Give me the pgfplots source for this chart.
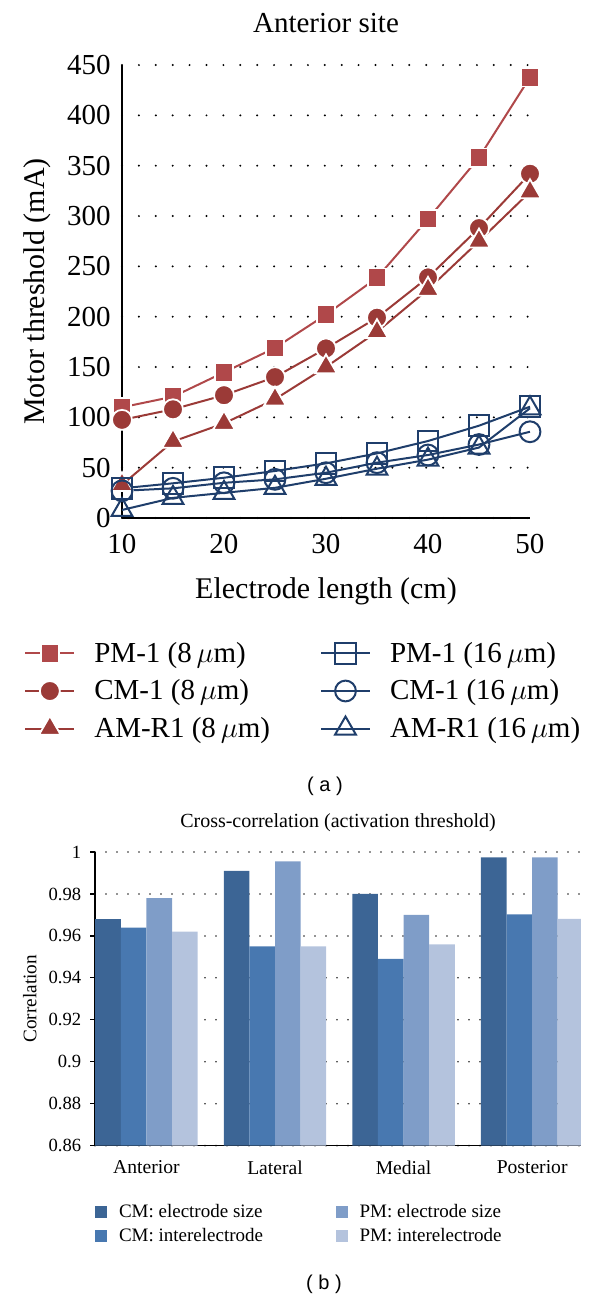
\documentclass[border=0pt]{standalone}
\usepackage{fontspec}
\setmainfont{Liberation Serif}
\newfontfamily\capfont{Liberation Sans}
\usepackage{pgfplots}
\pgfplotsset{compat=1.18}

\definecolor{redA}{HTML}{B0484A}
\definecolor{redB}{HTML}{9B3A37}
\definecolor{blueL}{HTML}{1F3E6B}
\definecolor{barA}{HTML}{3C6595}
\definecolor{barB}{HTML}{4878B0}
\definecolor{barC}{HTML}{7F9DC8}
\definecolor{barD}{HTML}{B4C3DD}

\tikzset{
  redsq/.style  = {redA, line width=1pt, mark=square*, mark size=4.6pt,
                   mark options={solid, fill=redA, draw=white, line width=0.9pt}},
  redci/.style  = {redB, line width=1pt, mark=*, mark size=5pt,
                   mark options={solid, fill=redB, draw=white, line width=0.9pt}},
  redtr/.style  = {redB, line width=1pt, mark=triangle*, mark size=6.3pt,
                   mark options={solid, fill=redB, draw=white, line width=0.9pt}},
  bluesq/.style = {blueL, line width=1pt, mark=square, mark size=5.2pt,
                   mark options={solid, line width=1pt}},
  blueci/.style = {blueL, line width=1pt, mark=o, mark size=5.2pt,
                   mark options={solid, line width=1pt}},
  bluetr/.style = {blueL, line width=1pt, mark=triangle, mark size=6pt,
                   mark options={solid, line width=1pt}},
}

\begin{document}
\begin{tikzpicture}
\useasboundingbox (0,0) rectangle (300pt,-649pt);

% (a) motor threshold vs electrode length
\begin{axis}[
  at={(61pt,-259pt)}, anchor=south west,
  scale only axis, width=204pt, height=226.5pt,
  xmin=10, xmax=50, ymin=0, ymax=450,
  xtick={10,20,30,40,50}, ytick={0,50,...,450},
  axis x line*=bottom, axis y line*=left,
  axis line style={black, line width=1pt},
  major tick length=0pt,
  ymajorgrids,
  grid style={black, line width=1.1pt, line cap=round, dash pattern=on 0pt off 8.45pt},
  /pgf/number format/assume math mode=true,
  tick label style={font=\fontsize{14.5}{16}\selectfont},
  xticklabel style={yshift=-4.5pt},
  yticklabel style={xshift=-2.2pt},
  clip=false,
  title={Anterior site},
  title style={at={(axis description cs:0.5,1.0455)}, anchor=base,
               font=\fontsize{14.5}{16}\selectfont},
  xlabel={Electrode length (cm)},
  xlabel style={at={(axis description cs:0.5,-0.1766)}, anchor=base,
                font=\fontsize{15}{17}\selectfont},
  ylabel={Motor threshold (mA)},
  ylabel style={at={(axis description cs:-0.2083,0.5)}, anchor=center,
                font=\fontsize{15}{17}\selectfont},
  legend columns=2,
  legend cell align=left,
  legend image code/.code={\draw[mark repeat=2,mark phase=2,#1]
      plot coordinates {(0pt,0pt)(12.25pt,0pt)(24.5pt,0pt)};},
  legend style={draw=none, fill=none, at={(axis description cs:-0.255,-0.255)},
                anchor=north west, font=\fontsize{14.5}{16}\selectfont,
                row sep=3.2pt,
                /tikz/every odd column/.append style={column sep=7.5pt},
                /tikz/every even column/.append style={column sep=23pt}},
]
% 8 um
\addplot[redsq, forget plot] coordinates
  {(10,110)(15,120.5)(20,144.7)(25,169)(30,202)(35,238.7)(40,297)(45,358)(50,437.8)};
\addplot[redci, forget plot] coordinates
  {(10,97.5)(15,108)(20,122)(25,140)(30,168.5)(35,199)(40,239)(45,288)(50,342)};
\addplot[redtr, forget plot] coordinates
  {(10,33)(15,76)(20,94)(25,118)(30,150)(35,185)(40,227)(45,275)(50,324)};
% 16 um
\addplot[bluesq, forget plot] coordinates
  {(10,29.5)(15,34.5)(20,40)(25,46.7)(30,54.3)(35,64.2)(40,76.5)(45,91.7)(50,110.6)};
\addplot[blueci, forget plot] coordinates
  {(10,27)(15,29.5)(20,35)(25,38.4)(30,45)(35,55)(40,62.6)(45,73)(50,85.7)};
\addplot[bluetr, forget plot] coordinates
  {(10,8)(15,20)(20,25)(25,30)(30,39)(35,49)(40,58)(45,70)(50,109)};

\addlegendimage{redsq}  \addlegendentry{PM-1 (8\,$\mu$m)}
\addlegendimage{bluesq} \addlegendentry{PM-1 (16\,$\mu$m)}
\addlegendimage{redci}  \addlegendentry{CM-1 (8\,$\mu$m)}
\addlegendimage{blueci} \addlegendentry{CM-1 (16\,$\mu$m)}
\addlegendimage{redtr}  \addlegendentry{AM-R1 (8\,$\mu$m)}
\addlegendimage{bluetr} \addlegendentry{AM-R1 (16\,$\mu$m)}
\end{axis}

\node[font=\capfont\fontsize{10}{12}\selectfont] at (162.5pt,-393pt) {( a )};

% (b) cross-correlation bars
\begin{axis}[
  at={(47.5pt,-572.8pt)}, anchor=south west,
  scale only axis, width=243pt, height=146.8pt,
  ybar=0pt, bar width=12.8pt,
  xmin=-0.4, xmax=3.38, ymin=0.86, ymax=1,
  xtick={0,1,2,3}, xticklabels={Anterior,Lateral,Medial,Posterior},
  ytick={0.86,0.88,0.9,0.92,0.94,0.96,0.98,1},
  yticklabels={0.86,0.88,0.9,0.92,0.94,0.96,0.98,1},
  axis x line*=bottom, axis y line*=left,
  axis line style={black, line width=0.6pt},
  tick align=outside, major tick length=2.5pt,
  ytick style={black, line width=0.6pt},
  xtick style={draw=none},
  ymajorgrids,
  grid style={black!85, line width=0.9pt, line cap=round, dash pattern=on 0pt off 5.5pt},
  xticklabel style={font=\fontsize{9.8}{11}\selectfont, yshift=-1.4pt},
  yticklabel style={font=\fontsize{9.3}{11}\selectfont, xshift=-0.9pt},
  title={Cross-correlation (activation threshold)},
  title style={at={(axis description cs:0.5,1.043)}, anchor=base,
               font=\fontsize{10}{12}\selectfont},
  ylabel={Correlation},
  ylabel style={at={(axis description cs:-0.134,0.5)}, anchor=center,
                font=\fontsize{9.6}{11}\selectfont},
  legend columns=2,
  legend cell align=left,
  legend image code/.code={\fill[#1] (0pt,-2.9pt) rectangle (5.8pt,2.9pt);},
  legend style={draw=none, fill=none, at={(axis description cs:-0.0123,-0.170)},
                anchor=north west, font=\fontsize{9.5}{11}\selectfont,
                /tikz/every odd column/.append style={column sep=4pt},
                /tikz/every even column/.append style={column sep=34.5pt}},
]
\addplot[fill=barA, draw=none, bar shift=-19.2pt, forget plot]
  coordinates {(0,0.968)(1,0.991)(2,0.980)(3,0.9975)};
\addplot[fill=barB, draw=none, bar shift=-6.4pt, forget plot]
  coordinates {(0,0.964)(1,0.955)(2,0.949)(3,0.9703)};
\addplot[fill=barC, draw=none, bar shift=6.4pt, forget plot]
  coordinates {(0,0.978)(1,0.9955)(2,0.970)(3,0.9975)};
\addplot[fill=barD, draw=none, bar shift=19.2pt, forget plot]
  coordinates {(0,0.962)(1,0.955)(2,0.956)(3,0.9681)};
\addlegendimage{fill=barA, draw=none} \addlegendentry{CM: electrode size}
\addlegendimage{fill=barC, draw=none} \addlegendentry{PM: electrode size}
\addlegendimage{fill=barB, draw=none} \addlegendentry{CM: interelectrode}
\addlegendimage{fill=barD, draw=none} \addlegendentry{PM: interelectrode}
\end{axis}

\node[font=\capfont\fontsize{10}{12}\selectfont] at (162pt,-642pt) {( b )};
\end{tikzpicture}
\end{document}
